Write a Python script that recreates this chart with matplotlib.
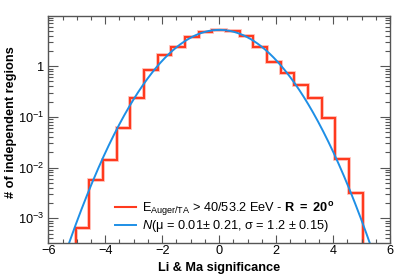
import numpy as np
import matplotlib
matplotlib.use("Agg")
import matplotlib.pyplot as plt
from matplotlib.ticker import FixedLocator, LogLocator, FuncFormatter, NullFormatter
from matplotlib.lines import Line2D

# ---- data ----
bin_edges = np.round(np.arange(-6.0, 6.0 + 1e-9, 0.48), 2)
counts = [0, 0, 6.3e-4, 5.8e-3, 0.0143, 0.0617, 0.238, 0.84, 1.67, 2.43, 3.73, 4.69,
          5.2, 5.0, 3.96, 2.40, 1.23, 0.74, 0.43, 0.238, 0.095, 0.015, 0.0032, 0, 0]
fit_mu = 0.01
fit_sigma = 1.2
fit_amp = 5.2
hist_label = r"E$_{\mathregular{Auger/TA}}$ > 40/53.2 EeV - $\mathbf{R\ =\ 20^{o}}$"
fit_label = r"$\mathit{N}$(μ = 0.01$\pm$ 0.21, σ = 1.2 $\pm$ 0.15)"
xlabel = "Li & Ma significance"
ylabel = "# of independent regions"

plt.rcParams['font.family'] = ['Liberation Sans', 'DejaVu Sans']
plt.rcParams['mathtext.fontset'] = 'custom'
plt.rcParams['mathtext.rm'] = 'Liberation Sans'
plt.rcParams['mathtext.it'] = 'Liberation Sans:italic'
plt.rcParams['mathtext.bf'] = 'Liberation Sans:bold'

red = '#FF3A1E'
blue = '#1E8FE6'
fs = 9.2

fig = plt.figure(figsize=(4.07, 2.76), dpi=100)
W, H = 407, 276
L, R, T, B = 48.3, 390, 15.7, 242.7
ax = fig.add_axes([L / W, (H - B) / H, (R - L) / W, (B - T) / H])

ymin, ymax = 3.3e-4, 9.9
plot_counts = np.where(np.array(counts) > 0, counts, 1e-6)
ax.stairs(plot_counts, bin_edges, color=red, lw=2.8, alpha=0.3, baseline=None)
ax.stairs(plot_counts, bin_edges, color=red, lw=1.5, baseline=None)

xs = np.linspace(-6, 6, 600)
ys = fit_amp * np.exp(-(xs - fit_mu) ** 2 / (2 * fit_sigma ** 2))
ax.plot(xs, ys, color=blue, lw=1.4)

ax.set_yscale('log')
ax.set_xlim(-6, 6)
ax.set_ylim(ymin, ymax)

ax.xaxis.set_major_locator(FixedLocator([-6, -4, -2, 0, 2, 4, 6]))
ax.xaxis.set_minor_locator(FixedLocator(np.arange(-6, 6.01, 0.5)))
ax.yaxis.set_major_locator(LogLocator(base=10, numticks=10))
ax.yaxis.set_minor_locator(LogLocator(base=10, subs=np.arange(2, 10), numticks=20))
ax.yaxis.set_minor_formatter(NullFormatter())

def yfmt(v, pos):
    e = int(round(np.log10(v)))
    if e == 0:
        return "1"
    return r"$\mathregular{10^{%d}}$" % e
ax.yaxis.set_major_formatter(FuncFormatter(yfmt))

edge = '#555555'
for s in ax.spines.values():
    s.set_color(edge)
    s.set_linewidth(1.0)
ax.tick_params(which='both', direction='in', top=True, right=True, colors=edge,
               labelcolor='black', labelsize=fs, width=0.8)
ax.tick_params(axis='x', which='major', length=5.8, pad=2)
ax.tick_params(axis='x', which='minor', length=2.9)
ax.tick_params(axis='y', which='major', length=7.2, pad=3)
ax.tick_params(axis='y', which='minor', length=3.6)

ax.set_xlabel(xlabel, fontsize=fs, fontweight='bold')
ax.xaxis.label.set_va('center')
ax.xaxis.set_label_coords(0.5, -0.113)
ax.set_ylabel(ylabel, fontsize=fs, fontweight='bold')
ax.yaxis.label.set_va('center')
ax.yaxis.set_label_coords(-0.109, 0.532)

handles = [Line2D([], [], color=red, lw=1.5), Line2D([], [], color=blue, lw=1.4)]
leg = ax.legend(handles, [hist_label, fit_label], loc='upper left',
                bbox_to_anchor=(115 / W, 1 - 200 / H), bbox_transform=fig.transFigure,
                frameon=False, fontsize=fs, handlelength=1.68, handletextpad=0.47,
                labelspacing=0.0, borderpad=0, borderaxespad=0)

fig.savefig("out.png", dpi=100)
